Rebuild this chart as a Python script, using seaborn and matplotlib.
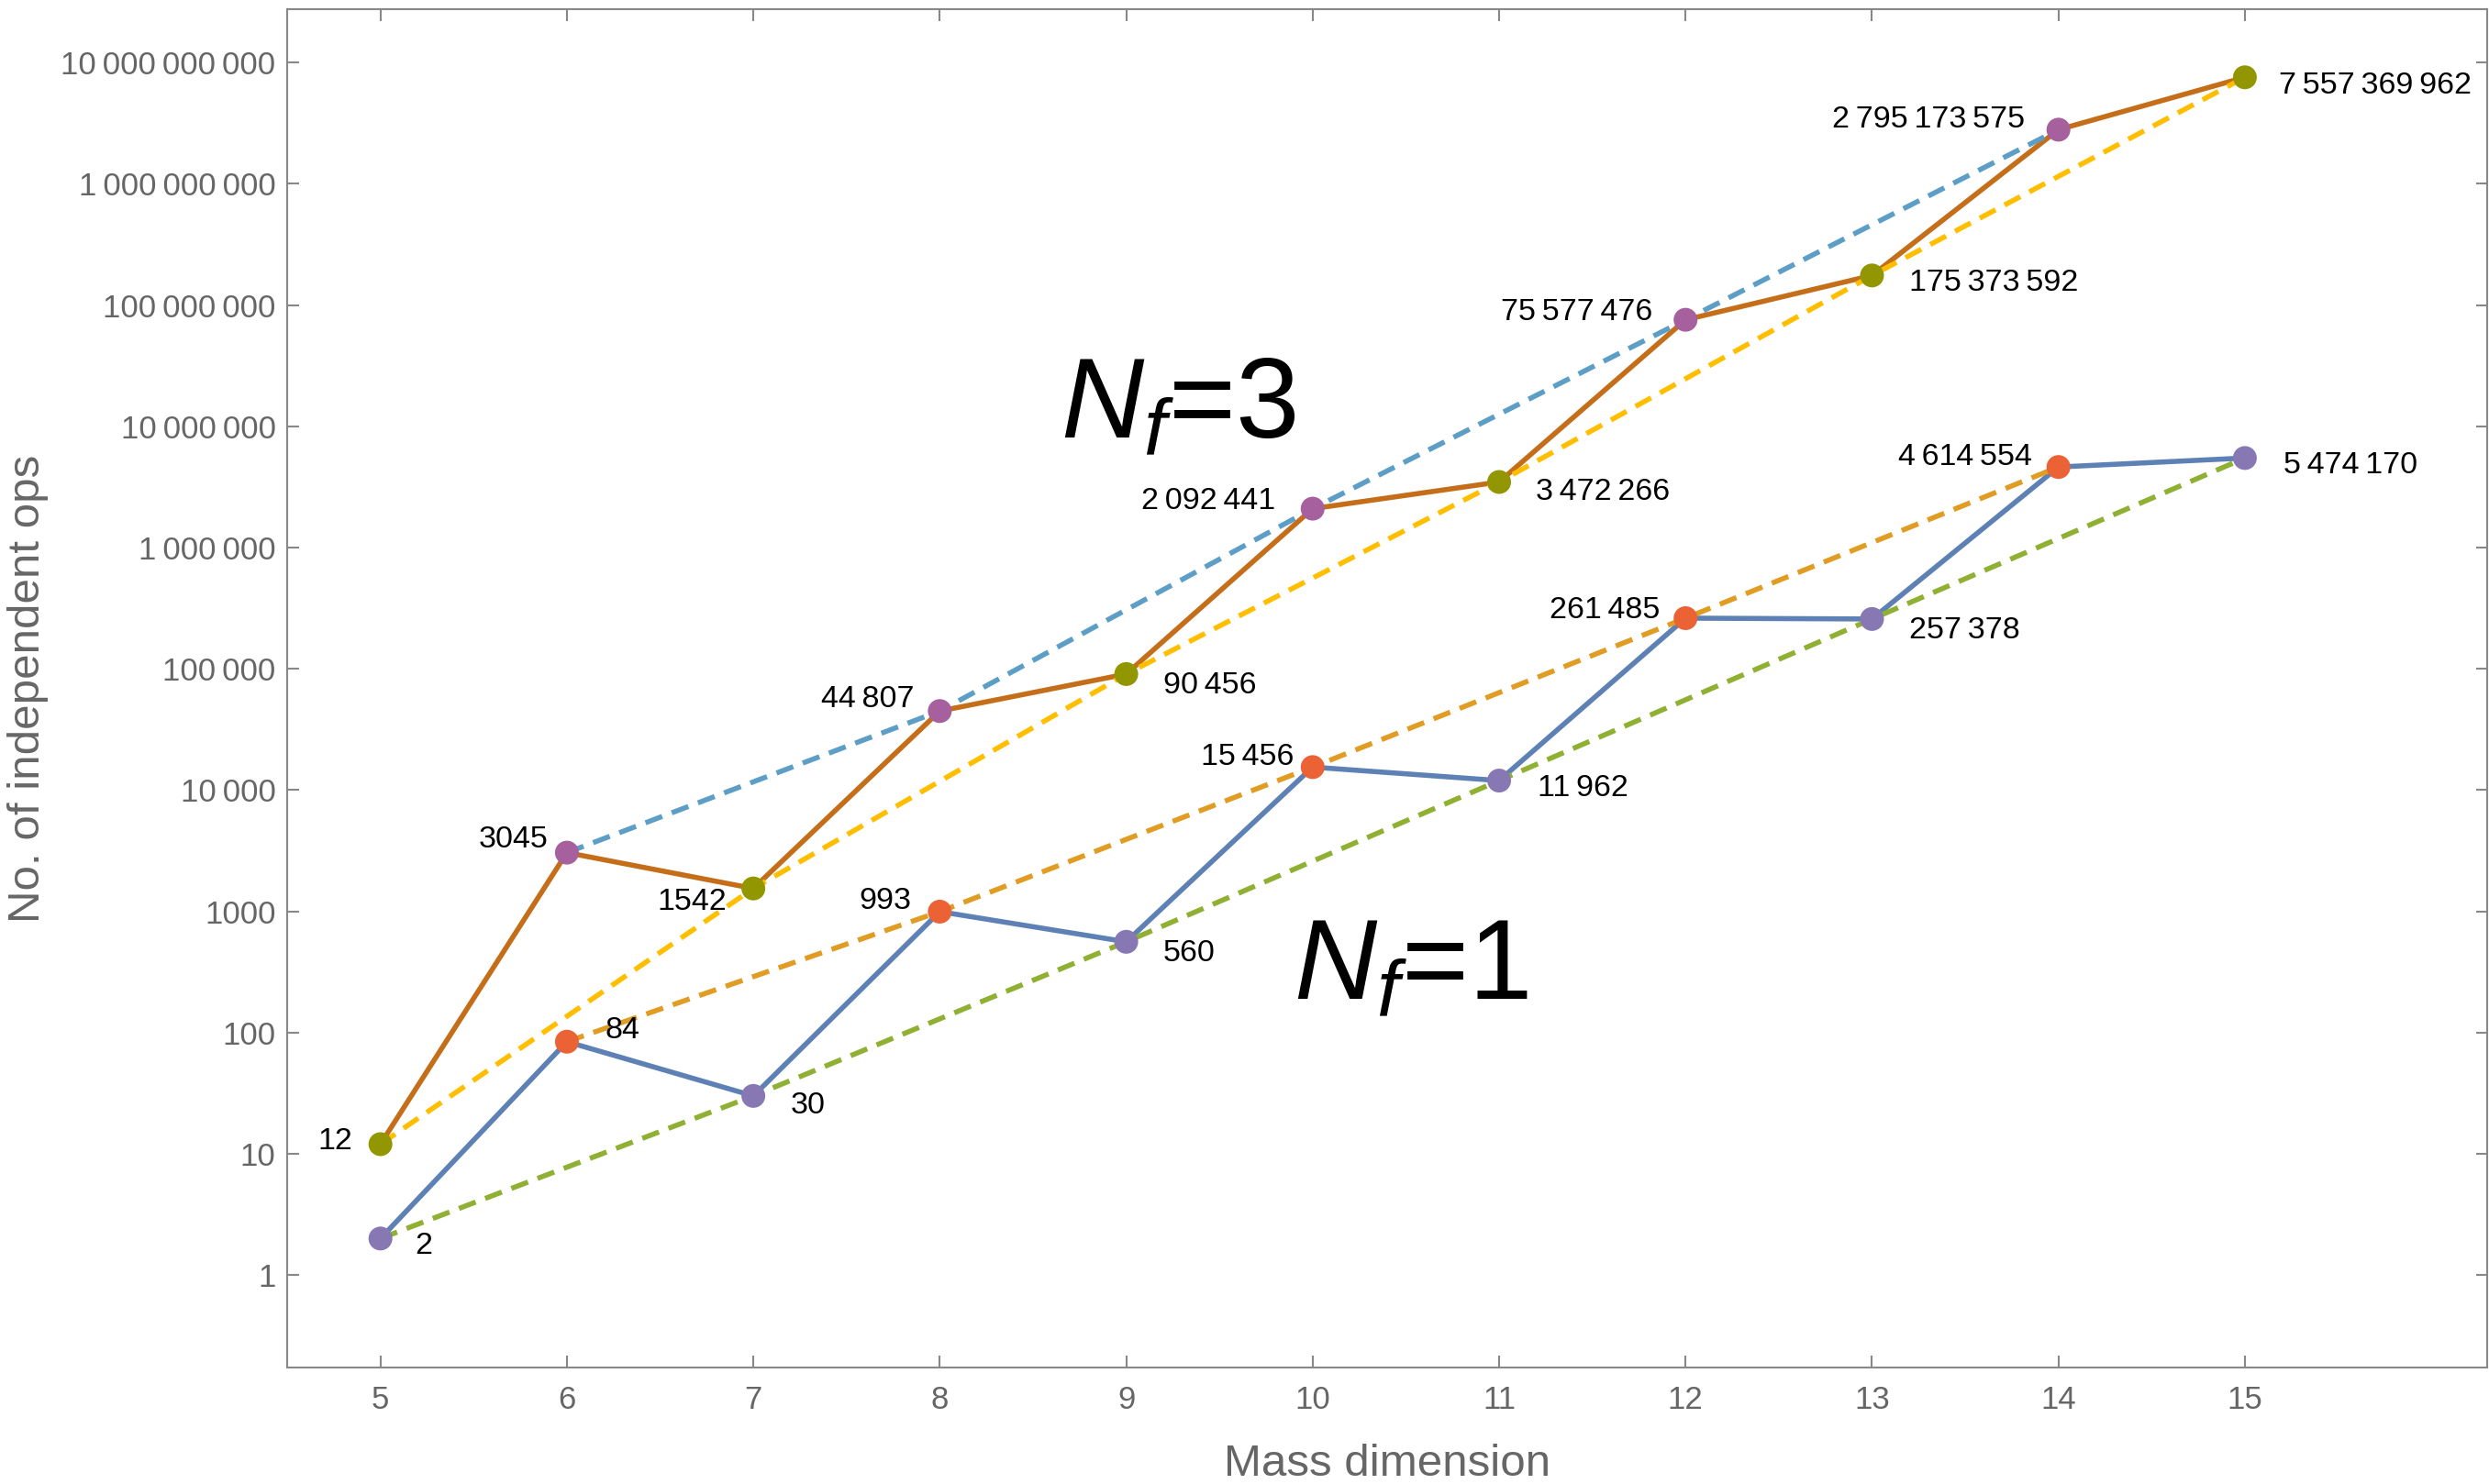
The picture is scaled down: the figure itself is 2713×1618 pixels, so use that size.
import matplotlib
matplotlib.use('Agg')
import matplotlib.pyplot as plt
import seaborn as sns
import pandas as pd
import numpy as np
from matplotlib.ticker import FuncFormatter, NullLocator

# Number of independent operators per mass dimension
dims = [5, 6, 7, 8, 9, 10, 11, 12, 13, 14, 15]
ops_nf1 = [2, 84, 30, 993, 560, 15456, 11962, 261485, 257378, 4614554, 5474170]
ops_nf3 = [12, 3045, 1542, 44807, 90456, 2092441, 3472266, 75577476,
           175373592, 2795173575, 7557369962]
y_ticks = [10 ** k for k in range(11)]

# label offsets (points) and alignment for each point
off_nf1 = [(27, -6), (30, 9), (29, -8), (-22, 8), (29, -9), (-15, 8), (30, -6),
           (-20, 6), (29, -9), (-21, 8), (30, -6)]
off_nf3 = [(-22, 2), (-15, 10), (-21, -11), (-20, 9), (29, -9), (-29, 6), (29, -8),
           (-26, 6), (29, -6), (-26, 8), (27, -7)]

# Mathematica-like palette
c_blue, c_orange, c_green = '#5E81B5', '#E19C24', '#8FB032'
c_red, c_purple, c_brown = '#EB6235', '#8778B3', '#C56E1A'
c_lblue, c_yellow, c_pink, c_olive = '#5D9EC7', '#FFBF00', '#A5609D', '#929600'

sns.set_style('ticks')
plt.rcParams['font.family'] = ['Liberation Sans', 'DejaVu Sans']
plt.rcParams['mathtext.fontset'] = 'custom'
plt.rcParams['mathtext.rm'] = 'Liberation Sans'
plt.rcParams['mathtext.it'] = 'Liberation Sans:italic'


def group(n):
    n = int(n)
    if n < 10000:
        return str(n)
    return f'{n:,}'.replace(',', '\u2009')


df = pd.DataFrame({'dim': dims, 'nf1': ops_nf1, 'nf3': ops_nf3})
even = df[df['dim'] % 2 == 0]
odd = df[df['dim'] % 2 == 1]

fig = plt.figure(figsize=(27.13, 16.18), dpi=100)
ax = fig.add_axes([0.1154, 0.0785, 0.8839, 0.9153])
ax.set_yscale('log')

lw = 4.0
dash = (0, (3.5, 2.0))

# solid lines
sns.lineplot(data=df, x='dim', y='nf3', color=c_brown, lw=lw, ax=ax, zorder=2)
sns.lineplot(data=df, x='dim', y='nf1', color=c_blue, lw=lw, ax=ax, zorder=2)

# dashed envelopes
sns.lineplot(data=even, x='dim', y='nf3', color=c_lblue, lw=lw, linestyle=dash, ax=ax, zorder=3)
sns.lineplot(data=odd, x='dim', y='nf3', color=c_yellow, lw=lw, linestyle=dash, ax=ax, zorder=3)
sns.lineplot(data=even, x='dim', y='nf1', color=c_orange, lw=lw, linestyle=dash, ax=ax, zorder=3)
sns.lineplot(data=odd, x='dim', y='nf1', color=c_green, lw=lw, linestyle=dash, ax=ax, zorder=3)

# markers
ms = 350
sns.scatterplot(data=even, x='dim', y='nf3', color=c_pink, s=ms, edgecolor='none', ax=ax, zorder=5)
sns.scatterplot(data=odd, x='dim', y='nf3', color=c_olive, s=ms, edgecolor='none', ax=ax, zorder=5)
sns.scatterplot(data=even, x='dim', y='nf1', color=c_red, s=ms, edgecolor='none', ax=ax, zorder=5)
sns.scatterplot(data=odd, x='dim', y='nf1', color=c_purple, s=ms, edgecolor='none', ax=ax, zorder=5)

# point labels
for vals, offs in [(ops_nf1, off_nf1), (ops_nf3, off_nf3)]:
    for d, v, (dx, dy) in zip(dims, vals, offs):
        ax.annotate(group(v), (d, v), xytext=(dx, dy), textcoords='offset points',
                    ha='left' if dx > 0 else 'right', va='center',
                    fontsize=24.5, color='black', zorder=6)

ax.text(8.65, 10 ** 6.90, r'$N_f$=3', fontsize=90, color='black', va='baseline', ha='left')
ax.text(9.90, 10 ** 2.27, r'$N_f$=1', fontsize=90, color='black', va='baseline', ha='left')

ax.set_xlim(4.5, 16.3)
ax.set_ylim(10 ** -0.763, 10 ** 10.44)
ax.set_xticks(dims)
ax.set_yticks(y_ticks)
ax.yaxis.set_minor_locator(NullLocator())
ax.yaxis.set_major_formatter(FuncFormatter(lambda v, _: group(v)))

gray = '#666666'
for s in ax.spines.values():
    s.set_color('#888888')
    s.set_linewidth(1.5)
ax.tick_params(axis='x', direction='in', length=9.5, width=1.5, color='#888888',
               top=True, labelsize=25, labelcolor=gray, pad=14)
ax.tick_params(axis='y', direction='in', length=9, width=1.5, color='#888888',
               right=True, labelsize=25, labelcolor=gray, pad=9)

ax.set_xlabel('Mass dimension', fontsize=35.5, color=gray, labelpad=22)
ax.set_ylabel('No. of independent ops', fontsize=35.5, color=gray, labelpad=10)

fig.savefig('out.png', dpi=100)
